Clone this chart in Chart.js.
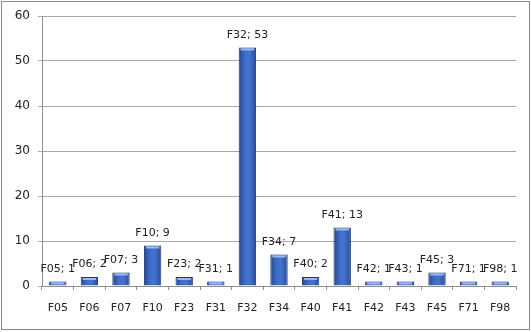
<!DOCTYPE html>
<html><head><meta charset="utf-8">
<script src="https://cdn.jsdelivr.net/npm/chart.js@4/dist/chart.umd.min.js"></script>
<style>html,body{margin:0;padding:0;background:#fff}#wrap{width:531px;height:332px}</style>
</head><body><div id="wrap"><canvas id="c" width="531" height="332"></canvas></div>
<script>
const categories = ["F05","F06","F07","F10","F23","F31","F32","F34","F40","F41","F42","F43","F45","F71","F98"];
const values = [1,2,3,9,2,1,53,7,2,13,1,1,3,1,1];
const yTicks = [0,10,20,30,40,50,60];

const FONT = {family: "'DejaVu Sans', Verdana, sans-serif", size: 11};
const BAR_PCT = 0.55;

const labelPlugin = {
  id: 'labels',
  afterDatasetsDraw(chart) {
    const ctx = chart.ctx;
    const meta = chart.getDatasetMeta(0);
    ctx.save();
    // top highlight of each bar
    meta.data.forEach((bar) => {
      const w = bar.width;
      ctx.fillStyle = 'rgba(170,200,240,0.85)';
      ctx.fillRect(bar.x - w/2 + 2, bar.y + 1, w - 4, 2);
    });
    ctx.font = FONT.size + "px " + FONT.family;
    ctx.fillStyle = '#222';
    ctx.textAlign = 'center';
    ctx.textBaseline = 'bottom';
    meta.data.forEach((bar, i) => {
      ctx.fillText(categories[i] + '; ' + values[i], bar.x, bar.y - 7);
    });
    ctx.restore();
  },
  afterDraw(chart) {
    const ctx = chart.ctx;
    ctx.save();
    ctx.strokeStyle = '#8a8a8a';
    ctx.lineWidth = 1;
    ctx.strokeRect(1.5, 1.5, 528, 328);
    ctx.restore();
  }
};

new Chart(document.getElementById('c'), {
  type: 'bar',
  data: {
    labels: categories,
    datasets: [{
      data: values,
      backgroundColor(c) {
        const ch = c.chart;
        const xs = ch.scales && ch.scales.x;
        if (!ch.chartArea || !xs || c.dataIndex === undefined) return '#3a64bd';
        const cx = xs.getPixelForValue(c.dataIndex);
        const w = (ch.chartArea.width / categories.length) * BAR_PCT;
        if (!isFinite(cx) || !isFinite(w)) return '#3a64bd';
        const g = ch.ctx.createLinearGradient(cx - w/2, 0, cx + w/2, 0);
        g.addColorStop(0, '#27468e');
        g.addColorStop(0.35, '#3e6cc8');
        g.addColorStop(0.6, '#4574cf');
        g.addColorStop(1, '#2a4c98');
        return g;
      },
      borderColor: '#1f3672',
      borderWidth: 1,
      borderSkipped: 'bottom',
      barPercentage: BAR_PCT,
      categoryPercentage: 1.0
    }]
  },
  options: {
    responsive: false,
    animation: false,
    devicePixelRatio: 1,
    layout: {padding: {left: 0, top: 16, right: 15, bottom: 0}},
    plugins: {legend: {display: false}, tooltip: {enabled: false}},
    scales: {
      x: {
        grid: {display: true, drawOnChartArea: false, drawTicks: true, tickLength: 4, color: '#909090', offset: true},
        border: {display: true, color: '#909090'},
        ticks: {font: FONT, color: '#222', padding: 12, maxRotation: 0, autoSkip: false},
        afterFit(s) { s.height = 46; }
      },
      y: {
        min: 0, max: 60,
        afterBuildTicks(s) { s.ticks = yTicks.map(v => ({value: v})); },
        grid: {color: '#a8a8a8', tickLength: 4},
        border: {display: true, color: '#909090'},
        ticks: {font: {family: FONT.family, size: 12}, color: '#222', padding: 8},
        afterFit(s) { s.width = 42; }
      }
    }
  },
  plugins: [labelPlugin]
});
</script>
</body></html>
